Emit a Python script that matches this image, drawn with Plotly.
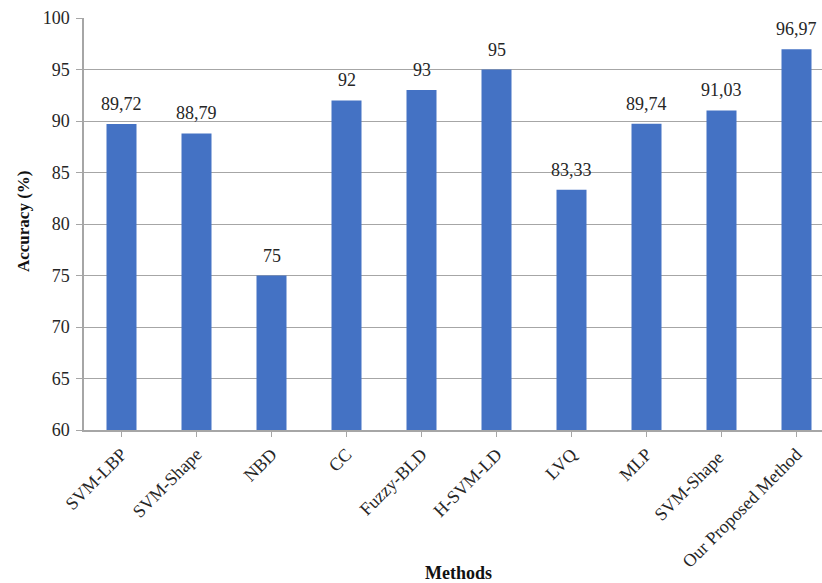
import plotly.graph_objects as go

methods = ["SVM-LBP", "SVM-Shape", "NBD", "CC", "Fuzzy-BLD", "H-SVM-LD",
           "LVQ", "MLP", "SVM-Shape ", "Our Proposed Method"]
accuracy = [89.72, 88.79, 75, 92, 93, 95, 83.33, 89.74, 91.03, 96.97]
y_ticks = [60, 65, 70, 75, 80, 85, 90, 95, 100]

labels = [f"{v:g}".replace(".", ",") for v in accuracy]
xpos = list(range(len(methods)))

serif = "Liberation Serif"
grid = "#a6a6a6"
txt = "#262626"

W, H = 822, 583
ml, mr, mt, mb = 84, 0, 18, 153
pw, ph = W - ml - mr, H - mt - mb

fig = go.Figure(go.Bar(
    x=xpos, y=accuracy, marker_color="#4472C4",
    marker_line_width=0, width=0.4,
))

for x, v, t in zip(xpos, accuracy, labels):
    fig.add_annotation(x=x, y=v, text=t, showarrow=False, yanchor="bottom",
                       yshift=8, font=dict(family=serif, size=18, color=txt))

# axis titles placed in paper coordinates derived from pixel positions
fig.add_annotation(x=(458 - ml) / pw, y=(H - mb - 573) / ph, xref="paper", yref="paper",
                   text="<b>Methods</b>", showarrow=False, xanchor="center", yanchor="middle",
                   font=dict(family=serif, size=18, color="#111"))
fig.add_annotation(x=(23 - ml) / pw, y=(H - mb - 221) / ph, xref="paper", yref="paper",
                   text="<b>Accuracy (%)</b>", showarrow=False, textangle=-90,
                   xanchor="center", yanchor="middle",
                   font=dict(family=serif, size=17, color="#111"))

fig.update_layout(
    width=W, height=H, margin=dict(l=ml, r=mr, t=mt, b=mb),
    plot_bgcolor="white", paper_bgcolor="white", showlegend=False,
    font=dict(family=serif, size=18, color=txt),
    xaxis=dict(
        tickmode="array", tickvals=xpos, ticktext=methods, tickangle=-45,
        range=[-0.5, 9.34], showgrid=False, showline=True, linecolor=grid,
        linewidth=1.5, ticks="outside", tickson="boundaries", ticklen=5,
        tickcolor=grid, tickfont=dict(family=serif, size=18, color=txt),
    ),
    yaxis=dict(
        range=[60, 100], tickvals=y_ticks, showgrid=True, gridcolor=grid,
        gridwidth=1.2, showline=True, linecolor=grid, linewidth=1.5,
        ticks="outside", ticklen=6, tickcolor=grid, zeroline=False,
        tickfont=dict(family=serif, size=18, color=txt), ticklabelstandoff=3,
    ),
)

fig.write_html("out.html")
